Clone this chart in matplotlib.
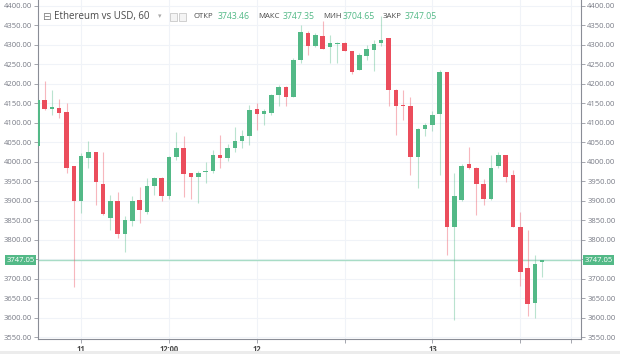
import numpy as np
import matplotlib
matplotlib.use("Agg")
import matplotlib.pyplot as plt
from matplotlib.patches import Rectangle

plt.rcParams['font.family'] = ['Open Sans', 'DejaVu Sans']

# hourly candles, 10th 18:00 .. 13th 15:00
opens = [4040, 4158, 4135, 4138, 4127, 3988, 3900, 4010, 4025, 3943,
         3855, 3900, 3815, 3849, 3902, 3872, 3938, 3957, 3913, 4012,
         4035, 3970, 3962, 3973, 3975, 4018, 4009, 4035, 4052, 4065,
         4135, 4123, 4126, 4170, 4191, 4167, 4261, 4330, 4297, 4323,
         4294, 4303, 4304, 4283, 4236, 4272, 4287, 4304, 4317, 4184,
         4143, 4142, 4012, 4084, 4095, 4123, 4230, 3832, 3902, 3995,
         3985, 3943, 3905, 3988, 4016, 3966, 3832, 3727, 3637, 3743.46]
highs = [4160, 4208, 4185, 4160, 4150, 3990, 4022, 4054, 4026, 4026,
         3914, 3921, 3860, 3911, 3936, 3958, 3962, 3962, 4015, 4075,
         4067, 3972, 3975, 3998, 4030, 4069, 4045, 4090, 4081, 4146,
         4150, 4135, 4175, 4198, 4195, 4265, 4351, 4335, 4330, 4362,
         4325, 4307, 4307, 4285, 4280, 4300, 4313, 4373, 4318, 4186,
         4184, 4167, 4087, 4100, 4129, 4236, 4231, 3970, 3993, 4039,
         3987, 3955, 4018, 4025, 4018, 3979, 3872, 3825, 3761, 3747.35]
lows = [4035, 4133, 4120, 4112, 3970, 3678, 3868, 3983, 3890, 3862,
        3825, 3804, 3767, 3834, 3842, 3865, 3915, 3900, 3905, 4005,
        3910, 3905, 3893, 3945, 3970, 3983, 4003, 4025, 4035, 4044,
        4081, 4093, 4120, 4142, 4142, 4165, 4253, 4273, 4295, 4288,
        4253, 4253, 4283, 4225, 4235, 4261, 4232, 4296, 4142, 4069,
        4107, 3966, 3932, 4066, 4080, 3966, 3761, 3594, 3900, 3980,
        3864, 3889, 3903, 3985, 3949, 3832, 3680, 3603, 3598, 3704.65]
closes = [4158, 4135, 4140, 4125, 3985, 3900, 4015, 4025, 3947, 3866,
          3900, 3815, 3851, 3898, 3875, 3938, 3957, 3913, 4012, 4035,
          3968, 3960, 3970, 3976, 4018, 4009, 4035, 4052, 4066, 4133,
          4123, 4129, 4170, 4193, 4167, 4261, 4334, 4297, 4326, 4289,
          4304, 4305, 4285, 4229, 4274, 4289, 4302, 4313, 4184, 4142,
          4142, 4012, 4084, 4095, 4120, 4230, 3832, 3911, 3990, 3983,
          3943, 3905, 3985, 4016, 3962, 3832, 3718, 3634, 3738, 3747.05]

tick_hours = [6, 18, 30, 42, 54, 66, 73]
tick_labels = ['11', '12:00', '12', '', '13', '', '']
price_ticks = np.arange(3550, 4401, 50)
last_price = 3747.05

GREEN = '#53b987'
RED = '#eb4d5c'
GRID = '#f0f3f8'
TXT = '#787b86'

fig = plt.figure(figsize=(6.2, 3.54), dpi=100)
ax = fig.add_axes([38 / 620, 15 / 354, 543 / 620, 339 / 354])

o = np.array(opens); h = np.array(highs); l = np.array(lows); c = np.array(closes)
x = np.arange(len(o))
up = c >= o
cols = np.where(up, GREEN, RED)

ax.vlines(x, l, h, colors=cols, linewidth=0.8, alpha=0.4, zorder=2)
bottoms = np.minimum(o, c)
heights = np.maximum(np.abs(c - o), 2.5)
ax.bar(x, heights, bottom=bottoms, width=0.62, color=cols, linewidth=0, zorder=3)

ax.axhline(last_price, color='#a8dcc6', linewidth=1, zorder=1)

ax.set_xlim(0.1, 74.3)
ax.set_ylim(3545, 4415)

ax.set_yticks(price_ticks)
# the 3750 label is covered by the last-price tag
ax.set_yticklabels(['' if v == 3750 else '%.2f' % v for v in price_ticks])
ax.set_xticks(tick_hours)
ax.set_xticklabels(tick_labels, fontweight='bold')
ax.tick_params(axis='y', which='both', labelsize=5.5, labelcolor=TXT, color='#9598a1',
               length=3, width=0.6, left=True, right=True, labelleft=True, labelright=True, pad=1.5)
ax.tick_params(axis='x', labelsize=5.5, labelcolor='#4a4a4a', color='#9598a1', length=3,
               width=0.6, pad=1.5)
ax.grid(True, color=GRID, linewidth=0.8, zorder=0)
ax.set_axisbelow(True)
for s in ['left', 'right', 'bottom']:
    ax.spines[s].set_color('#8a8d96')
    ax.spines[s].set_linewidth(0.8)
ax.spines['top'].set_visible(False)

# last price tags on both sides
for xpos, ha in [(-0.006, 'right'), (1.006, 'left')]:
    ax.text(xpos, last_price, '%.2f' % last_price, transform=ax.get_yaxis_transform(),
            ha=ha, va='center', fontsize=5.5, color='white', zorder=6, clip_on=False,
            bbox=dict(boxstyle='square,pad=0.22', fc=GREEN, ec='none'))

# header legend
fy = 1 - 16.5 / 354
fig.text(42 / 620, fy, '\u229f', fontsize=7.5, color='#7d7d7d', va='center', family=['DejaVu Sans'])
fig.text(54 / 620, fy, 'Ethereum vs USD, 60', fontsize=7.0, color='#4a4a4a', va='center')
fig.text(158 / 620, fy, '\u25be', fontsize=5, color='#aaaaaa', va='center', family=['DejaVu Sans'])
for bx in [170, 179]:
    fig.patches.append(Rectangle((bx / 620, (354 - 21) / 354), 7 / 620, 8 / 354,
                                 transform=fig.transFigure, fc='#f4f4f4', ec='#c8c8c8', lw=0.6))
items = [(194, 'ОТКР', 218, '3743.46'), (258, 'МАКС', 283, '3747.35'),
         (323, 'МИН', 343, '3704.65'), (383, 'ЗАКР', 405, '3747.05')]
for lx, lab, vx, val in items:
    fig.text(lx / 620, fy, lab, fontsize=5.6, color='#4a4a4a', va='center')
    fig.text(vx / 620, fy, val, fontsize=6.3, color=GREEN, va='center')

fig.patches.append(Rectangle((0, 0), 1, 3 / 354, transform=fig.transFigure,
                             fc='#ececec', ec='none'))

fig.savefig('out.png', dpi=100)
